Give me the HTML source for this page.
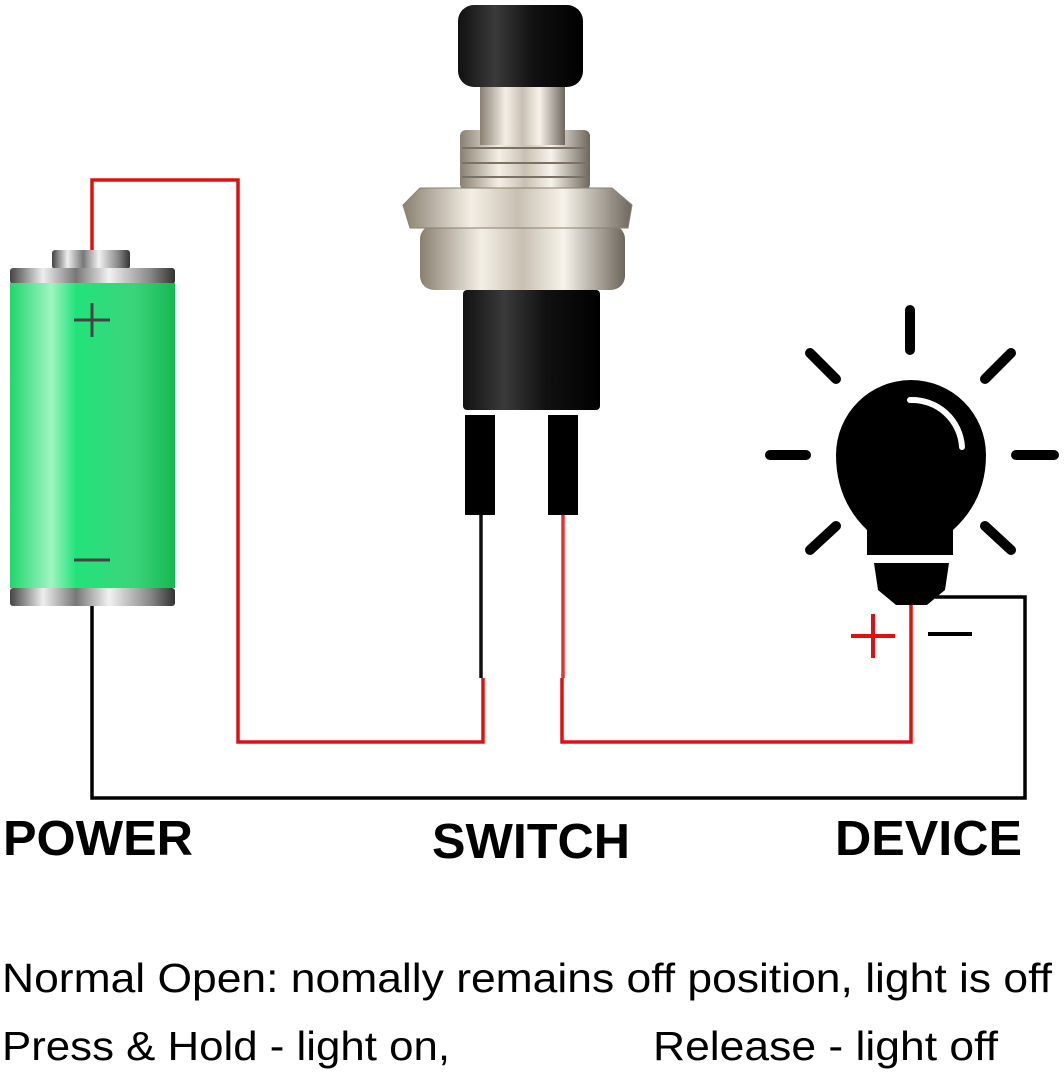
<!DOCTYPE html>
<html><head><style>
body{margin:0;background:#fff;}
svg{display:block;}
text{font-family:"Liberation Sans",Arial,sans-serif;}
</style></head><body>
<svg width="1064" height="1072" viewBox="0 0 1064 1072" xmlns="http://www.w3.org/2000/svg">
<defs>
<linearGradient id="g" x1="0" x2="1">
<stop offset="0" stop-color="#1fd66e"/><stop offset="0.25" stop-color="#9ff5c2"/><stop offset="0.4" stop-color="#22e37a"/><stop offset="0.75" stop-color="#3bd47a"/><stop offset="1" stop-color="#16b852"/>
</linearGradient>
<linearGradient id="m" x1="0" x2="1">
<stop offset="0" stop-color="#444"/><stop offset="0.2" stop-color="#eee"/><stop offset="0.4" stop-color="#777"/><stop offset="0.6" stop-color="#f2f2f2"/><stop offset="0.85" stop-color="#888"/><stop offset="1" stop-color="#333"/>
</linearGradient>
<linearGradient id="s" x1="0" x2="1">
<stop offset="0" stop-color="#8a8070"/><stop offset="0.3" stop-color="#f4efe6"/><stop offset="0.5" stop-color="#c8c0b2"/><stop offset="0.7" stop-color="#f7f3ea"/><stop offset="1" stop-color="#6d665c"/>
</linearGradient>
<linearGradient id="k" x1="0" x2="1">
<stop offset="0" stop-color="#111"/><stop offset="0.3" stop-color="#3a3a3a"/><stop offset="0.6" stop-color="#111"/><stop offset="1" stop-color="#000"/>
</linearGradient>
</defs>
<g fill="none" stroke-width="3.5">
<polyline points="92,250 92,180 238,180 238,742 483,742 483,678" stroke="#e01010"/>
<polyline points="562,678 562,742 911,742 911,600" stroke="#e01010"/>
<polyline points="92,605 92,798 1025,798 1025,597 935,597" stroke="#000"/>
<line x1="481" y1="515" x2="481" y2="678" stroke="#111"/>
<line x1="563" y1="515" x2="563" y2="678" stroke="#e83030"/>
</g>
<rect x="52" y="250" width="78" height="19" rx="3" fill="url(#m)"/>
<rect x="10" y="268" width="165" height="16" rx="3" fill="url(#m)"/>
<rect x="10" y="283" width="165" height="305" fill="url(#g)"/>
<rect x="10" y="588" width="165" height="18" rx="3" fill="url(#m)"/>
<g stroke="#444" stroke-width="3"><line x1="74" y1="320" x2="110" y2="320"/><line x1="92" y1="303" x2="92" y2="337"/><line x1="74" y1="560" x2="110" y2="560"/></g>
<rect x="463" y="290" width="137" height="120" rx="4" fill="url(#k)"/>
<rect x="420" y="225" width="205" height="65" rx="14" fill="url(#s)"/>
<rect x="460" y="130" width="130" height="60" rx="6" fill="url(#s)"/>
<g stroke="#7a7266" stroke-width="2"><line x1="462" y1="148" x2="588" y2="148"/><line x1="462" y1="163" x2="588" y2="163"/><line x1="462" y1="177" x2="588" y2="177"/></g>
<rect x="480" y="80" width="85" height="65" fill="url(#s)"/>
<polygon points="420,188 612,188 632,205 628,228 410,228 403,205" fill="url(#s)" stroke="#8a8070"/>
<rect x="458" y="5" width="125" height="82" rx="16" fill="url(#k)"/>
<rect x="465" y="415" width="30" height="100" fill="#000"/>
<rect x="548" y="415" width="30" height="100" fill="#000"/>
<g stroke="#000" stroke-width="10" stroke-linecap="round">
<line x1="910" y1="310" x2="910" y2="350"/>
<line x1="770" y1="455" x2="806" y2="455"/>
<line x1="1016" y1="455" x2="1054" y2="455"/>
<line x1="810" y1="353" x2="836" y2="379"/>
<line x1="1011" y1="353" x2="985" y2="379"/>
<line x1="810" y1="550" x2="836" y2="526"/>
<line x1="1011" y1="550" x2="985" y2="526"/>
</g>
<path d="M867,555 L867,530 Q836,500 836,455 A75,75 0 0 1 986,455 Q986,500 953,530 L953,555 Z" fill="#000"/>
<path d="M874,563 L949,563 L945,590 L927,605 L896,605 L878,590 Z" fill="#000"/>
<path d="M910,400 A50,50 0 0 1 962,447" fill="none" stroke="#fff" stroke-width="6" stroke-linecap="round"/>
<g stroke="#e01010" stroke-width="4"><line x1="851" y1="636" x2="895" y2="636"/><line x1="873" y1="614" x2="873" y2="658"/></g>
<line x1="928" y1="634" x2="972" y2="634" stroke="#000" stroke-width="4"/>
<g font-weight="bold" font-size="49" fill="#000">
<text x="3" y="855" textLength="190" lengthAdjust="spacingAndGlyphs">POWER</text>
<text x="432" y="858" textLength="198" lengthAdjust="spacingAndGlyphs">SWITCH</text>
<text x="835" y="855" textLength="187" lengthAdjust="spacingAndGlyphs">DEVICE</text>
</g>
<g font-size="41" fill="#000">
<text x="2" y="992" textLength="1050" lengthAdjust="spacingAndGlyphs">Normal Open: nomally remains off position, light is off</text>
<text x="2" y="1060" textLength="448" lengthAdjust="spacingAndGlyphs">Press &amp; Hold - light on,</text>
<text x="653" y="1060" textLength="345" lengthAdjust="spacingAndGlyphs">Release - light off</text>
</g>
</svg>
</body></html>
